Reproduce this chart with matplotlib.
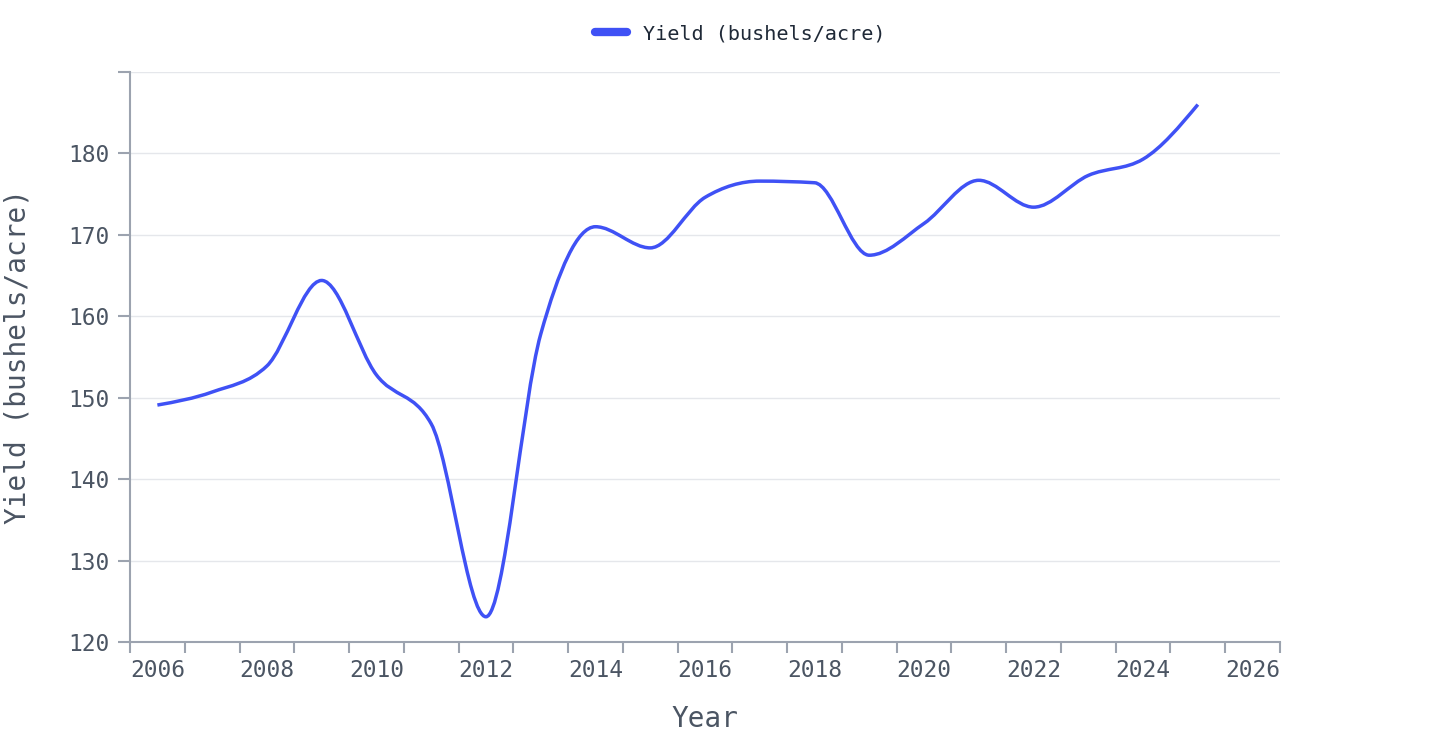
import numpy as np
import matplotlib
matplotlib.use("Agg")
import matplotlib.pyplot as plt
from matplotlib.path import Path
from matplotlib.patches import PathPatch
from matplotlib.lines import Line2D

years = [2006, 2007, 2008, 2009, 2010, 2011, 2012, 2013, 2014, 2015,
         2016, 2017, 2018, 2019, 2020, 2021, 2022, 2023, 2024, 2025]
yield_vals = [149.1, 150.7, 153.9, 164.4, 152.8, 146.8, 123.1, 157.8, 171.0, 168.4,
              174.6, 176.6, 176.4, 167.5, 171.4, 176.7, 173.4, 177.3, 179.3, 186.0]
series_name = "Yield (bushels/acre)"
x_tick_years = list(range(2006, 2027, 2))
y_ticks = [120, 130, 140, 150, 160, 170, 180, 190]

LINE = "#3f51f5"
AXIS = "#9ca3af"
GRID = "#e5e7eb"
TEXT = "#4b5563"
MONO = "DejaVu Sans Mono"


def monotone_path(xs, ys):
    xs = np.asarray(xs, float)
    ys = np.asarray(ys, float)
    n = len(xs)
    t = np.zeros(n)
    for i in range(1, n - 1):
        h0 = xs[i] - xs[i - 1]
        h1 = xs[i + 1] - xs[i]
        s0 = (ys[i] - ys[i - 1]) / h0
        s1 = (ys[i + 1] - ys[i]) / h1
        p = (s0 * h1 + s1 * h0) / (h0 + h1)
        t[i] = (np.sign(s0) + np.sign(s1)) * min(abs(s0), abs(s1), 0.5 * abs(p))
    h = xs[1] - xs[0]
    t[0] = (3 * (ys[1] - ys[0]) / h - t[1]) / 2
    h = xs[-1] - xs[-2]
    t[-1] = (3 * (ys[-1] - ys[-2]) / h - t[-2]) / 2
    verts = [(xs[0], ys[0])]
    codes = [Path.MOVETO]
    for i in range(n - 1):
        dx = (xs[i + 1] - xs[i]) / 3
        verts += [(xs[i] + dx, ys[i] + dx * t[i]),
                  (xs[i + 1] - dx, ys[i + 1] - dx * t[i + 1]),
                  (xs[i + 1], ys[i + 1])]
        codes += [Path.CURVE4] * 3
    return Path(verts, codes)


fig = plt.figure(figsize=(14.4, 7.54), dpi=100)
ax = fig.add_axes([130 / 1440, 1 - 642 / 754, 1150 / 1440, 570 / 754])

ax.set_xlim(2005.5, 2026.5)
ax.set_ylim(120, 190)

patch = PathPatch(monotone_path(years, yield_vals), facecolor="none",
                  edgecolor=LINE, linewidth=2.5, capstyle="butt",
                  joinstyle="round", zorder=3)
ax.add_patch(patch)

# grid
ax.set_yticks(y_ticks)
ax.set_yticklabels([str(v) if v != 190 else "" for v in y_ticks])
ax.yaxis.grid(True, color=GRID, linewidth=1.0, zorder=0)
ax.set_axisbelow(True)

ax.set_xticks(x_tick_years)
ax.set_xticklabels([str(y) for y in x_tick_years])
ax.set_xticks(np.arange(2005.5, 2026.6, 1.0), minor=True)

for s in ["top", "right"]:
    ax.spines[s].set_visible(False)
for s in ["left", "bottom"]:
    ax.spines[s].set_color(AXIS)
    ax.spines[s].set_linewidth(1.5)

ax.tick_params(axis="x", which="major", length=0, pad=12,
               labelsize=16.5, labelcolor=TEXT)
ax.tick_params(axis="x", which="minor", length=8, width=1.5, color=AXIS)
ax.tick_params(axis="y", which="major", length=9, width=1.5, color=AXIS,
               pad=6, labelsize=16.5, labelcolor=TEXT)
for lab in ax.get_xticklabels() + ax.get_yticklabels():
    lab.set_fontfamily(MONO)

ax.set_xlabel("Year", fontsize=20, color=TEXT, fontfamily=MONO, labelpad=17)
ax.set_ylabel("Yield (bushels/acre)", fontsize=20, color=TEXT,
              fontfamily=MONO, labelpad=26)

handle = Line2D([], [], color=LINE, linewidth=6, solid_capstyle="round")
leg = fig.legend([handle], [series_name], loc="center",
                 bbox_to_anchor=(740 / 1440, 1 - 34 / 754), frameon=False,
                 prop={"family": MONO, "size": 14.5}, handlelength=1.6,
                 handletextpad=0.8)
for t in leg.get_texts():
    t.set_color("#1f2937")

fig.savefig("out.png", dpi=100, facecolor="white")
